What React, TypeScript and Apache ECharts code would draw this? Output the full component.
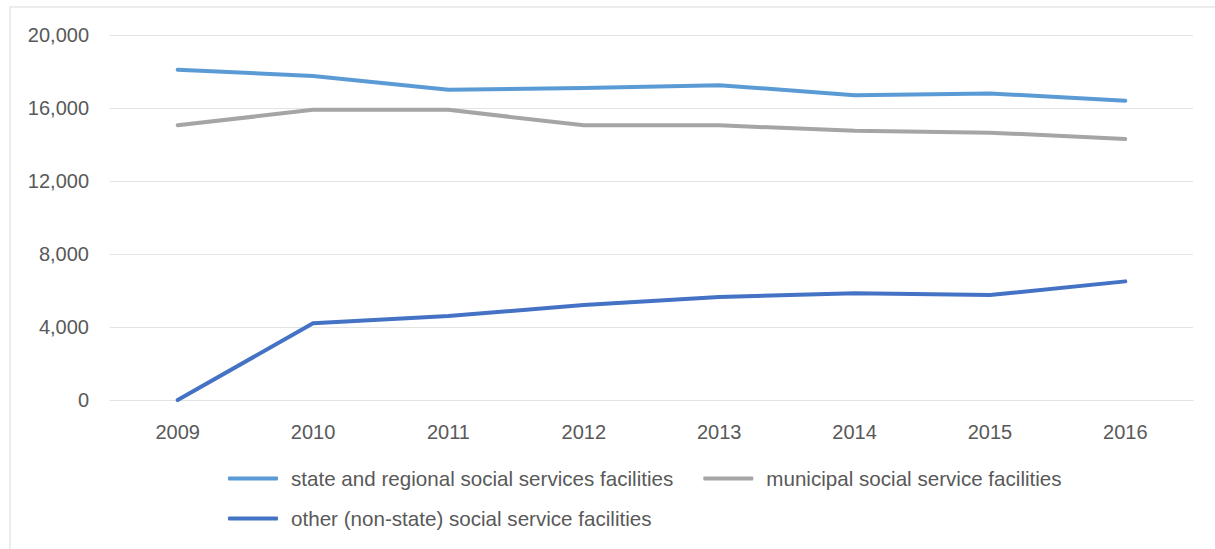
import React, { useEffect, useRef } from "react";
import * as echarts from "echarts";

const years = ["2009", "2010", "2011", "2012", "2013", "2014", "2015", "2016"];
const stateRegional = [18100, 17750, 17000, 17100, 17250, 16700, 16800, 16400];
const municipal = [15050, 15900, 15900, 15050, 15050, 14750, 14650, 14300];
const otherNonState = [0, 4200, 4600, 5200, 5650, 5850, 5750, 6500];
const seriesNames = [
  "state and regional social services facilities",
  "municipal social service facilities",
  "other (non-state) social service facilities",
];
const colors = ["#5B9BD5", "#A5A5A5", "#4472C4"];

const FONT = "'Liberation Sans', Arial, sans-serif";
const TEXT_COLOR = "#595959";
const GRID_COLOR = "#e3e3e3";

export default function App() {
  const ref = useRef<HTMLDivElement>(null);
  useEffect(() => {
    if (!ref.current) return;
    const chart = echarts.init(ref.current, null, { renderer: "svg" });
    const legendCommon = {
      orient: "horizontal" as const,
      icon: "roundRect",
      itemWidth: 50,
      itemHeight: 4,
      itemGap: 30,
      padding: 0,
      textStyle: {
        color: TEXT_COLOR,
        fontSize: 20.6,
        fontFamily: FONT,
        padding: [0, 0, 0, 8],
      },
      selectedMode: false as const,
    };
    chart.setOption({
      animation: false,
      backgroundColor: "#ffffff",
      color: colors,
      textStyle: { fontFamily: FONT },
      graphic: [
        {
          type: "rect",
          shape: { x: 10, y: 7, width: 1400, height: 700 },
          style: { fill: "none", stroke: "#e6e6e6", lineWidth: 1.5 },
          silent: true,
        },
      ],
      grid: { left: 110, right: 22, top: 35, bottom: 149, containLabel: false },
      legend: [
        { ...legendCommon, left: 228, top: 468, data: [seriesNames[0], seriesNames[1]] },
        { ...legendCommon, left: 228, top: 508, data: [seriesNames[2]] },
      ],
      xAxis: {
        type: "category",
        data: years,
        boundaryGap: true,
        axisLine: { show: true, lineStyle: { color: GRID_COLOR, width: 1 } },
        axisTick: { show: false },
        axisLabel: { color: TEXT_COLOR, fontSize: 20, fontFamily: FONT, margin: 22 },
      },
      yAxis: {
        type: "value",
        min: 0,
        max: 20000,
        interval: 4000,
        axisLine: { show: false },
        axisTick: { show: false },
        splitLine: { lineStyle: { color: GRID_COLOR, width: 1 } },
        axisLabel: {
          color: TEXT_COLOR,
          fontSize: 20,
          fontFamily: FONT,
          margin: 21,
          formatter: (v: number) => v.toLocaleString("en-US"),
        },
      },
      series: [
        { name: seriesNames[0], type: "line", data: stateRegional, showSymbol: false, lineStyle: { width: 4, color: colors[0], cap: "round", join: "round" }, itemStyle: { color: colors[0] } },
        { name: seriesNames[1], type: "line", data: municipal, showSymbol: false, lineStyle: { width: 4, color: colors[1], cap: "round", join: "round" }, itemStyle: { color: colors[1] } },
        { name: seriesNames[2], type: "line", data: otherNonState, showSymbol: false, lineStyle: { width: 4, color: colors[2], cap: "round", join: "round" }, itemStyle: { color: colors[2] } },
      ],
    });
    return () => chart.dispose();
  }, []);
  return (
    <div
      ref={ref}
      style={{ position: "absolute", left: 0, top: 0, width: 1215, height: 549 }}
    />
  );
}
